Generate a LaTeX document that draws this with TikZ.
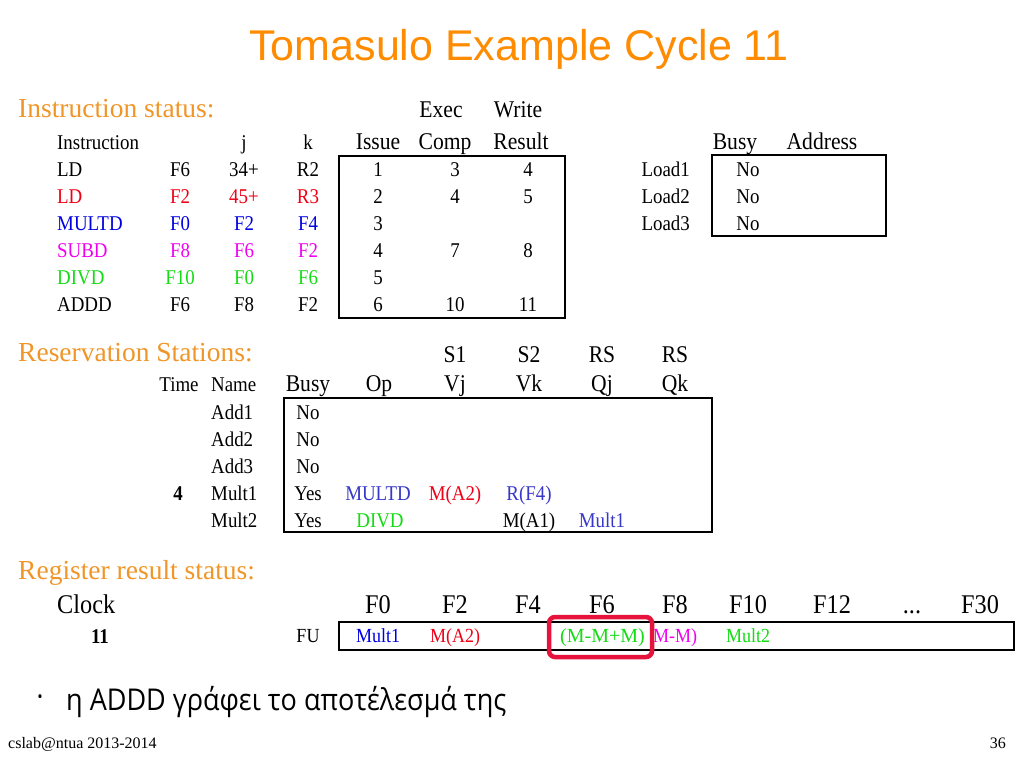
\documentclass[tikz,border=0pt]{standalone}
\usepackage{fontspec}
\setmainfont{Liberation Serif}
\newfontfamily\cond{Liberation Serif}[FakeStretch=0.9]
\newfontfamily\titlefont{Liberation Sans}
\newfontfamily\greekfont{Open Sans}[FakeStretch=0.9]
\definecolor{titleorange}{RGB}{255,140,0}
\definecolor{headorange}{RGB}{240,150,40}
\definecolor{iblue}{RGB}{0,0,225}
\definecolor{rblue}{RGB}{55,55,200}
\definecolor{ired}{RGB}{240,0,20}
\definecolor{imag}{RGB}{240,0,240}
\definecolor{igreen}{RGB}{20,220,20}
\definecolor{hlred}{RGB}{230,20,60}
\newcommand\fsmall{\cond\fontsize{21}{21}\selectfont}
\newcommand\fhead{\cond\fontsize{24}{24}\selectfont}
\newcommand\freg{\cond\fontsize{27}{27}\selectfont}
\newcommand\ffu{\cond\fontsize{20}{20}\selectfont}
\tikzset{
  cell/.style={anchor=base, inner sep=0pt, font=\fsmall},
  hcell/.style={anchor=base, inner sep=0pt, font=\fhead},
  rcell/.style={anchor=base, inner sep=0pt, font=\freg},
  fucell/.style={anchor=base, inner sep=0pt, font=\ffu},
  lcell/.style={anchor=base west, inner sep=0pt, font=\fsmall},
  section/.style={anchor=base west, inner sep=0pt, text=headorange, font=\fontsize{27.5}{28}\selectfont},
  frame/.style={draw=black, line width=2.5pt},
}
\begin{document}
\begin{tikzpicture}[x=1pt,y=-1pt]
\useasboundingbox[fill=white] (0,0) rectangle (1024,768);
% title
\node[anchor=base, inner sep=0pt, text=titleorange, font=\titlefont\fontsize{43}{43}\selectfont] (title) at (519,60) {Tomasulo Example Cycle 11};
% ---------- Instruction status ----------
\node[section] (sec1) at (18,117) {Instruction status:};
\node[hcell] (hexec) at (441,117) {Exec};
\node[hcell] (hwrite) at (518,117) {Write};
\node[lcell] (hinstr) at (57,149) {Instruction};
\node[cell] (hj) at (244,149) {j};
\node[cell] (hk) at (308,149) {k};
\node[hcell] (hissue) at (378,149) {Issue};
\node[hcell] (hcomp) at (445,149) {Comp};
\node[hcell] (hres) at (521,149) {Result};
\draw[frame] (339,156) rectangle (565,318);
% rows
\foreach \op/\d/\j/\k/\is/\ec/\wr/\col [count=\i from 0] in {
  LD/F6/34+/R2/1/3/4/black,
  LD/F2/45+/R3/2/4/5/ired,
  MULTD/F0/F2/F4/3/{}/{}/iblue,
  SUBD/F8/F6/F2/4/7/8/imag,
  DIVD/F10/F0/F6/5/{}/{}/igreen,
  ADDD/F6/F8/F2/6/10/11/black}{
  \pgfmathsetmacro{\yy}{176+27*\i}
  \node[lcell, text=\col] (op\i) at (57,\yy) {\op};
  \node[cell, text=\col] (d\i) at (180,\yy) {\d};
  \node[cell, text=\col] (j\i) at (244,\yy) {\j};
  \node[cell, text=\col] (k\i) at (308,\yy) {\k};
  \node[cell] (is\i) at (378,\yy) {\is};
  \node[cell] (ec\i) at (455,\yy) {\ec};
  \node[cell] (wr\i) at (528,\yy) {\wr};
}
% ---------- Load buffers ----------
\node[hcell] (hbusy) at (735,149) {Busy};
\node[hcell] (haddr) at (822,149) {Address};
\draw[frame] (712,155) rectangle (886,236);
\foreach \n [count=\i from 0] in {1,2,3}{
  \pgfmathsetmacro{\yy}{176+27*\i}
  \node[cell, anchor=base east] (load\n) at (690,\yy) {Load\n};
  \node[cell] (lb\n) at (748,\yy) {No};
}
% ---------- Reservation stations ----------
\node[section] (sec2) at (18,361) {Reservation Stations:};
\node[hcell] (hs1) at (455,362) {S1};
\node[hcell] (hs2) at (529,362) {S2};
\node[hcell] (hrs1) at (602,362) {RS};
\node[hcell] (hrs2) at (675,362) {RS};
\node[cell] (htime) at (179,391) {Time};
\node[lcell] (hname) at (211,391) {Name};
\node[hcell] (hrbusy) at (308,391) {Busy};
\node[hcell] (hop) at (379,391) {Op};
\node[hcell] (hvj) at (455,391) {Vj};
\node[hcell] (hvk) at (529,391) {Vk};
\node[hcell] (hqj) at (602,391) {Qj};
\node[hcell] (hqk) at (675,391) {Qk};
\draw[frame] (284,398) rectangle (712,532);
\foreach \nm/\b [count=\i from 0] in {Add1/No,Add2/No,Add3/No,Mult1/Yes,Mult2/Yes}{
  \pgfmathsetmacro{\yy}{419+27*\i}
  \node[lcell] (rs\i) at (211,\yy) {\nm};
  \node[cell] (rb\i) at (308,\yy) {\b};
}
\node[cell, font=\fsmall\bfseries] (time4) at (178,500) {4};
\node[cell, text=rblue] (m1op) at (378,500) {MULTD};
\node[cell, text=ired] (m1vj) at (455,500) {M(A2)};
\node[cell, text=rblue] (m1vk) at (529,500) {R(F4)};
\node[cell, text=igreen] (m2op) at (380,527) {DIVD};
\node[cell] (m2vk) at (529,527) {M(A1)};
\node[cell, text=rblue] (m2qj) at (602,527) {Mult1};
% ---------- Register result status ----------
\node[section] (sec3) at (18,579) {Register result status:};
\node[rcell, anchor=base west] (clock) at (57,613) {Clock};
\foreach \r/\x in {F0/378,F2/455,F4/528,F6/602,F8/675,F10/748,F12/832,F30/980}{
  \node[rcell] (reg\r) at (\x,613) {\r};
}
\node[rcell] (regdots) at (912,613) {...};
\node[cell, font=\fsmall\bfseries] (clk) at (100,643) {11};
\node[fucell] (fu) at (308,642) {FU};
\draw[frame] (339,622) rectangle (1014,650);
\node[fucell, text=iblue] (fuF0) at (378,642) {Mult1};
\node[fucell, text=ired] (fuF2) at (455,642) {M(A2)};
\begin{scope}
  \clip (549,620) rectangle (643,655);
  \node[fucell, text=igreen, anchor=base west, font=\fontsize{20}{20}\selectfont] (fuF6) at (560,642) {(M-M+M)};
\end{scope}
\node[fucell, text=imag, anchor=base west] (fuF8) at (653,642) {M-M)};
\node[fucell, text=igreen] (fuF10) at (748,642) {Mult2};
\draw[draw=hlred, line width=4.5pt, rounded corners=6pt, fill=none] (549,617) rectangle (652,657);
% ---------- bullet ----------
\node[anchor=center, inner sep=0pt, font=\greekfont\fontsize{16}{16}\selectfont] (bdot) at (40,699) {\textbullet};
\node[anchor=base west, inner sep=0pt, font=\greekfont\fontsize{30}{30}\selectfont] (bul) at (66,710) {η ADDD γράφει το αποτέλεσμά της};
% ---------- footer ----------
\node[anchor=base west, inner sep=0pt, font=\fontsize{16}{16}\selectfont] (foot) at (8,748) {cslab@ntua 2013-2014};
\node[anchor=base east, inner sep=0pt, font=\fontsize{16}{16}\selectfont] (page) at (1006,748) {36};
\end{tikzpicture}
\end{document}
